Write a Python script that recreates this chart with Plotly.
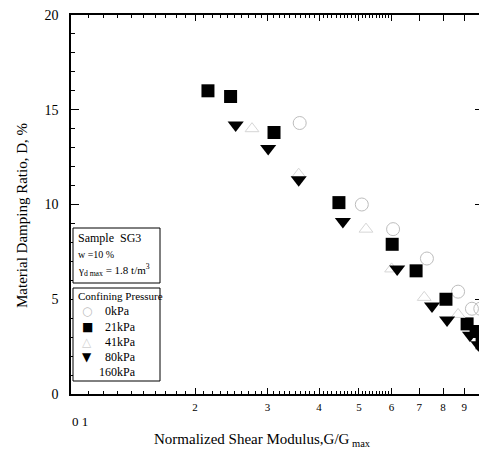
import plotly.graph_objects as go

# ---- data ----
g_0kpa = [0.359, 0.508, 0.605, 0.731, 0.870, 0.940, 0.985]
d_0kpa = [14.3, 10.0, 8.7, 7.15, 5.4, 4.5, 4.5]

g_21kpa = [0.215, 0.244, 0.311, 0.447, 0.602, 0.688, 0.813, 0.915, 0.962, 0.995]
d_21kpa = [16.0, 15.7, 13.8, 10.1, 7.9, 6.5, 5.0, 3.7, 3.3, 2.7]

g_41kpa = [0.275, 0.357, 0.52, 0.60, 0.72, 0.87]
d_41kpa = [14.0, 11.6, 8.7, 6.6, 5.1, 4.2]

g_80kpa = [0.251, 0.301, 0.357, 0.457, 0.619, 0.752, 0.818, 0.93, 0.975]
d_80kpa = [14.2, 12.95, 11.3, 9.1, 6.6, 4.65, 3.9, 3.1, 2.6]

x_tickvals = [0.2, 0.3, 0.4, 0.5, 0.6, 0.7, 0.8, 0.9]
x_ticktext = ["2", "3", "4", "5", "6", "7", "8", "9"]
x_minor = [round(0.1 + 0.01 * i, 2) for i in range(1, 50) if i % 10 != 0]
y_tickvals = [0, 5, 10, 15, 20]

legend_labels = ["0kPa", "21kPa", "41kPa", "80kPa", "160kPa"]
legend_symbols = ["○", "■", "△", "▼", ""]
legend_colors = ["#bdbdbd", "black", "#d0d0d0", "black", "#e0e0e0"]

FONT = "Liberation Serif"

# page body margin offset (8px) compensation
OFF = 8
# plot area in target screen (page) pixels
L, R, T, B = 71, 483, 15, 394
W, H = 487 - OFF, 456 - OFF


def px(x):
    return (x - L) / (R - L)


def py(y):
    return (B - y) / (B - T)


fig = go.Figure()
fig.add_trace(go.Scatter(x=g_0kpa, y=d_0kpa, mode="markers", name="0kPa",
                         marker=dict(symbol="circle-open", size=13, color="#bdbdbd",
                                     line=dict(width=1, color="#bdbdbd"))))
fig.add_trace(go.Scatter(x=g_21kpa, y=d_21kpa, mode="markers", name="21kPa",
                         marker=dict(symbol="square", size=13, color="black")))
fig.add_trace(go.Scatter(x=g_41kpa, y=d_41kpa, mode="markers", name="41kPa",
                         marker=dict(symbol="triangle-up-open", size=12, color="#d6d6d6",
                                     line=dict(width=1, color="#d6d6d6"))))
fig.add_trace(go.Scatter(x=g_80kpa, y=d_80kpa, mode="markers", name="80kPa",
                         marker=dict(symbol="triangle-down", size=14, color="black")))

fig.update_layout(
    width=W, height=H,
    margin=dict(l=L - OFF, r=487 - R, t=T - OFF, b=456 - B),
    paper_bgcolor="white", plot_bgcolor="white",
    font=dict(family=FONT, color="black", size=12),
    showlegend=False,
    xaxis=dict(
        type="log", range=[-1, 0], automargin=False,
        tickmode="array", tickvals=x_tickvals, ticktext=x_ticktext,
        ticks="inside", ticklen=6, tickwidth=1, tickcolor="black",
        tickfont=dict(family=FONT, size=11),
        ticklabelstandoff=2,
        minor=dict(tickvals=x_minor, ticks="inside", ticklen=3, tickcolor="black", showgrid=False),
        showline=True, linecolor="black", linewidth=1.5, mirror="ticks",
        showgrid=False, zeroline=False,
    ),
    yaxis=dict(
        range=[0, 20], automargin=False,
        tickmode="array", tickvals=y_tickvals,
        ticks="inside", ticklen=8, tickwidth=1, tickcolor="black",
        tickfont=dict(family=FONT, size=14),
        ticklabelstandoff=8, ticklabeloverflow="allow",
        minor=dict(dtick=1, ticks="inside", ticklen=4, tickcolor="black", showgrid=False),
        showline=True, linecolor="black", linewidth=1.5, mirror="ticks",
        showgrid=False, zeroline=False,
    ),
)

# axis titles
fig.add_annotation(xref="paper", yref="paper", x=px(262), y=py(440), xanchor="center", yanchor="middle",
                   text="Normalized Shear Modulus,G/G<sub> max</sub>", showarrow=False,
                   font=dict(family=FONT, size=15))
fig.add_annotation(xref="paper", yref="paper", x=px(22), y=py(216), xanchor="center", yanchor="middle",
                   text="Material Damping Ratio, D, %", showarrow=False, textangle=-90,
                   font=dict(family=FONT, size=15))

# decade labels (set lower than the other tick labels)
fig.add_annotation(xref="paper", yref="paper", x=px(70), y=py(421), xanchor="left", yanchor="middle",
                   text="0 1", showarrow=False, font=dict(family=FONT, size=13))
fig.add_annotation(xref="paper", yref="paper", x=px(481), y=py(421), xanchor="left", yanchor="middle",
                   text="1", showarrow=False, font=dict(family=FONT, size=13))

# sample info box
fig.add_shape(type="rect", xref="paper", yref="paper",
              x0=px(73), x1=px(160), y0=py(283), y1=py(228),
              line=dict(color="black", width=1), fillcolor="white", layer="above")
fig.add_annotation(xref="paper", yref="paper", x=px(76), y=py(238), xanchor="left", yanchor="middle",
                   text="Sample  SG3", showarrow=False, font=dict(family=FONT, size=12))
fig.add_annotation(xref="paper", yref="paper", x=px(76), y=py(254), xanchor="left", yanchor="middle",
                   text="w =10 %", showarrow=False, font=dict(family=FONT, size=10))
fig.add_annotation(xref="paper", yref="paper", x=px(76), y=py(270), xanchor="left", yanchor="middle",
                   text="γ<sub>d max</sub> = 1.8 t/m<sup>3</sup>", showarrow=False,
                   font=dict(family=FONT, size=11))

# confining pressure box
fig.add_shape(type="rect", xref="paper", yref="paper",
              x0=px(73), x1=px(160), y0=py(381), y1=py(288),
              line=dict(color="black", width=1), fillcolor="white", layer="above")
fig.add_annotation(xref="paper", yref="paper", x=px(76), y=py(296), xanchor="left", yanchor="middle",
                   text="Confining Pressure", showarrow=False, font=dict(family=FONT, size=11))
row_y = [311, 327, 342, 357, 372]
for lab, sym, col, yy in zip(legend_labels, legend_symbols, legend_colors, row_y):
    if sym:
        fig.add_annotation(xref="paper", yref="paper", x=px(87), y=py(yy), xanchor="center",
                           yanchor="middle", text=sym, showarrow=False,
                           font=dict(family="DejaVu Sans", size=12, color=col))
    fig.add_annotation(xref="paper", yref="paper", x=px(97 if lab == "160kPa" else 103), y=py(yy),
                       xanchor="left", yanchor="middle", text=lab, showarrow=False,
                       font=dict(family=FONT, size=12))

fig.write_html("out.html")
